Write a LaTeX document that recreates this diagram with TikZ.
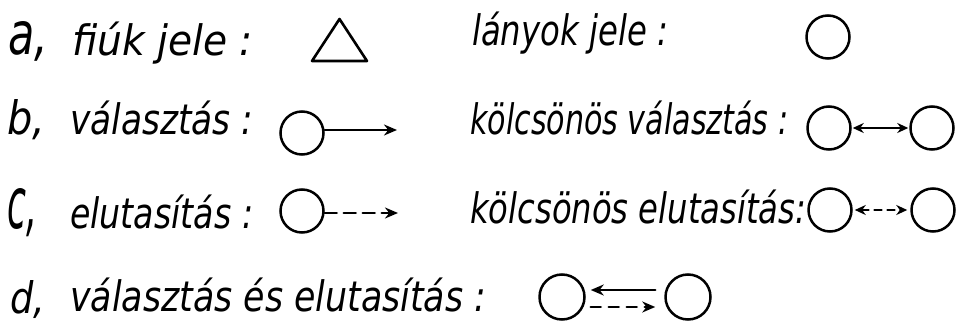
\documentclass[tikz,border=0pt]{standalone}
\usepackage{graphicx}
\usepackage{fontspec}
\setmainfont{DejaVu Sans}
\usetikzlibrary{arrows.meta,calc}
\newcommand{\fw}[2]{\resizebox{#1pt}{\height}{#2}}
\newcommand{\fl}[3]{\resizebox{#1pt}{#2pt}{#3}}
\begin{document}
\begin{tikzpicture}[x=1pt,y=-1pt,
  txt/.style={inner sep=0pt, anchor=base west, font=\fontsize{42}{50}\selectfont\itshape},
  sym/.style={circle, draw, line width=2.5pt, minimum size=43pt, inner sep=0pt},
  con/.style={line width=2.6pt, line cap=round},
  tip/.style={-{Stealth[length=13pt,width=11pt]}},
  dtip/.style={{Stealth[length=11pt,width=10pt]}-{Stealth[length=11pt,width=10pt]}}]
\useasboundingbox (0,0) rectangle (966,323);
% row a
\node[txt] (la) at (8,55) {\fl{40}{33}{a,}};
\node[txt] (ta1) at (72,56) {\fw{181}{fiúk jele :}};
\draw[line width=2.6pt, line join=round] (312,61) -- (339.5,19) -- (367,61) -- cycle;
\node[txt] (ta2) at (472,46) {\fw{196}{lányok jele :}};
\node[sym] (a1) at (828,37) {};
% row b
\node[txt] (lb) at (7,135) {\fl{38}{35}{b,}};
\node[txt] (tb1) at (70,135) {\fw{183}{választás :}};
\node[sym] (b1) at (302,133) {};
\coordinate (bend) at (397,130);
\draw[con,tip] (b1.east |- bend) -- (bend);
\node[txt] (tb2) at (470,135) {\fw{318}{kölcsönös választás :}};
\node[sym] (b2) at (829,128) {};
\node[sym] (b3) at (932,128) {};
\draw[con,dtip,shorten <=1pt,shorten >=1pt] (b2.east) -- (b3.west);
% row c
\node[txt] (lc) at (7,229) {\fl{30}{40}{c,}};
\node[txt] (tc1) at (70,228) {\fw{183}{elutasítás :}};
\node[sym] (c1) at (302,211) {};
\coordinate (cend) at (398,213);
\draw[con,tip,dash pattern=on 12pt off 7pt] (c1.east |- cend) -- (cend);
\node[txt] (tc2) at (470,223) {\fw{336}{kölcsönös elutasítás:}};
\node[sym] (c2) at (830,210) {};
\node[sym] (c3) at (933,210) {};
\draw[con,dtip,dash pattern=on 7pt off 6pt,shorten <=2pt,shorten >=3pt] (c2.east) -- (c3.west);
% row d
\node[txt] (ld) at (10,313) {\fl{35}{33}{d,}};
\node[txt] (td1) at (70,311) {\fw{416}{választás és elutasítás :}};
\node[sym, minimum size=45pt] (d1) at (562,297) {};
\node[sym, minimum size=45pt] (d2) at (688,297) {};
\draw[con,tip] ($(d2.west)+(-9,-7)$) -- ($(d1.east)+(5,-7)$);
\draw[con,tip,dash pattern=on 10pt off 8pt] ($(d1.east)+(5,10)$) -- ($(d2.west)+(-9,10)$);
\end{tikzpicture}
\end{document}
